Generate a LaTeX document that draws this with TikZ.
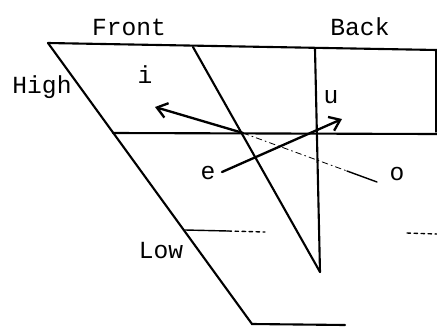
\documentclass[tikz,border=0pt]{standalone}
\usepackage{fontspec}
\setmonofont{Liberation Mono}
\usetikzlibrary{arrows.meta}

\begin{document}
\begin{tikzpicture}[x=0.03cm,y=-0.03cm,line cap=round,
  edge/.style={draw=black,line width=1.8pt},
  thin edge/.style={draw=black,line width=1.2pt},
  glide/.style={draw=black,line width=2pt,-{Straight Barb[length=3mm,width=4.5mm,line width=2pt]}},
  lbl/.style={font=\ttfamily\fontsize{21}{23}\selectfont,inner sep=0pt}]
\useasboundingbox (0,0) rectangle (437,326);
% corners of the chart
\coordinate (tl) at (48,43); \coordinate (tr) at (437,50);
\coordinate (bl) at (252,324); \coordinate (br) at (345,325);
\coordinate (ft) at (193,47); \coordinate (bt) at (315,49); \coordinate (tip) at (320,272);
\coordinate (ml) at (113,133); \coordinate (mr) at (437,134);
\coordinate (ll) at (185,230); \coordinate (lm) at (228,231); \coordinate (ld) at (265,232);
\coordinate (lr1) at (407,233); \coordinate (lr2) at (437,234);
\coordinate (rb) at (436,132);
% labels
\node[lbl] (front) at (129,27) {Front};
\node[lbl] (back) at (360,27) {Back};
\node[lbl] (high) at (42,87) {High};
\node[lbl] (low) at (161,251) {Low};
\node[lbl] (i) at (145,75) {i};
\node[lbl] (u) at (331,97) {u};
\node[lbl] (e) at (208,173) {e};
\node[lbl] (o) at (397,174) {o};
% grid
\draw[edge] (tl)--(tr);
\draw[edge] (tl)--(bl)--(br);
\draw[edge] (ft)--(tip);
\draw[edge] (bt)--(tip);
\draw[edge] (ml)--(mr);
\draw[thin edge] (436,50)--(rb);
\draw[thin edge] (ll)--(lm);
\draw[thin edge,dashed] (lm)--(ld);
\draw[thin edge,dashed] (lr1)--(lr2);
% glides
\coordinate (et) at (222,172); \coordinate (uh) at (342,119);
\coordinate (is) at (243,133); \coordinate (ih) at (155,107);
\coordinate (om) at (347,171); \coordinate (oe) at (377,182);
\draw[glide] (et)--(uh);
\draw[glide] (is)--(ih);
\draw[draw=black,line width=0.7pt,dash pattern=on 5pt off 3pt on 1pt off 3pt] (is)--(om);
\draw[thin edge] (om)--(oe);
\end{tikzpicture}
\end{document}
